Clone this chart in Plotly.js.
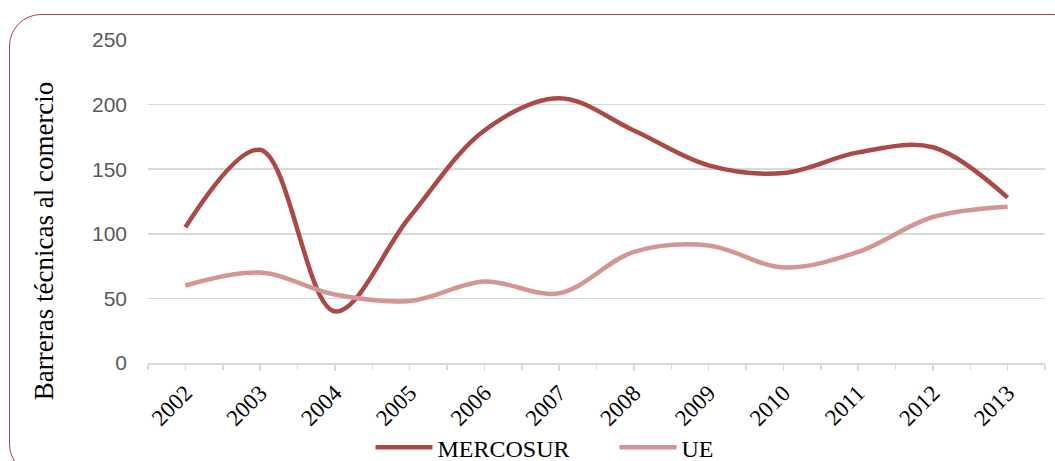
<!DOCTYPE html>
<html>
<head>
<meta charset="utf-8">
<script src="https://cdn.plot.ly/plotly-3.0.1.min.js"></script>
<style>
html,body{margin:0;padding:0;background:#fff;overflow:hidden;width:1055px;height:461px;}
#chart{position:absolute;left:0;top:0;width:1055px;height:461px;}
#frame{position:absolute;left:9px;top:14px;width:1076px;height:462px;border:1.5px solid #A44646;border-radius:32px;pointer-events:none;box-sizing:border-box;}
</style>
</head>
<body>
<div id="chart"></div>
<div id="frame"></div>
<script>
const years = [2002,2003,2004,2005,2006,2007,2008,2009,2010,2011,2012,2013];
const yearLabels = ["2002","2003","2004","2005","2006","2007","2008","2009","2010","2011","2012","2013"];
const mercosur = [105,165,40,113,180,205,180,153,147,163,167,128];
const ue = [60,70,53,48,63,54,86,91,74,86,113,121];
const yTicks = [0,50,100,150,200,250];
const yTitle = "Barreras técnicas al comercio";

const traces = [
  {x: years, y: mercosur, name: "MERCOSUR", type: "scatter", mode: "lines",
   line: {color: "#A94A46", width: 4.5, shape: "spline", smoothing: 1}},
  {x: years, y: ue, name: "UE", type: "scatter", mode: "lines",
   line: {color: "#D49595", width: 4.5, shape: "spline", smoothing: 1}}
];

const layout = {
  width: 1055, height: 461,
  margin: {l: 148, r: 10, t: 40, b: 98, autoexpand: false},
  paper_bgcolor: "rgba(0,0,0,0)",
  plot_bgcolor: "rgba(0,0,0,0)",
  showlegend: true,
  legend: {orientation: "h", x: 0.248, xanchor: "left", y: -0.262, yanchor: "middle",
    font: {family: "Liberation Serif, Times New Roman, serif", size: 24, color: "#000"},
    entrywidth: 172, tracegroupgap: 0, itemwidth: 57},
  annotations: [{
    text: yTitle, xref: "paper", yref: "paper", x: -0.116, y: 0.38,
    xanchor: "center", yanchor: "middle", textangle: -90, showarrow: false,
    font: {family: "Liberation Serif, Times New Roman, serif", size: 27, color: "#000"}
  }],
  xaxis: {
    type: "linear", range: [2001.5, 2013.5],
    tickmode: "array", tickvals: years, ticktext: yearLabels,
    tickangle: -45,
    tickfont: {family: "Liberation Serif, Times New Roman, serif", size: 23, color: "#000"},
    showgrid: false, zeroline: false,
    showline: true, linecolor: "#D9D9D9", linewidth: 1.5,
    ticks: "outside", ticklen: 6, tickcolor: "#D9D9D9", tickwidth: 1.5,
    minor: {tick0: 2001.5, dtick: 1, ticks: "outside", ticklen: 5, tickcolor: "#D9D9D9", tickwidth: 1.5, showgrid: false},
    fixedrange: true
  },
  yaxis: {
    range: [0, 250], tickmode: "array", tickvals: yTicks,
    tickfont: {family: "Liberation Sans, Arial, sans-serif", size: 21, color: "#595959"},
    showgrid: true, gridcolor: "#D9D9D9", gridwidth: 1.5,
    zeroline: false, showline: false, ticks: "", ticklabelstandoff: 20,
    fixedrange: true
  }
};

Plotly.newPlot("chart", traces, layout, {displayModeBar: false, staticPlot: true});
</script>
</body>
</html>
